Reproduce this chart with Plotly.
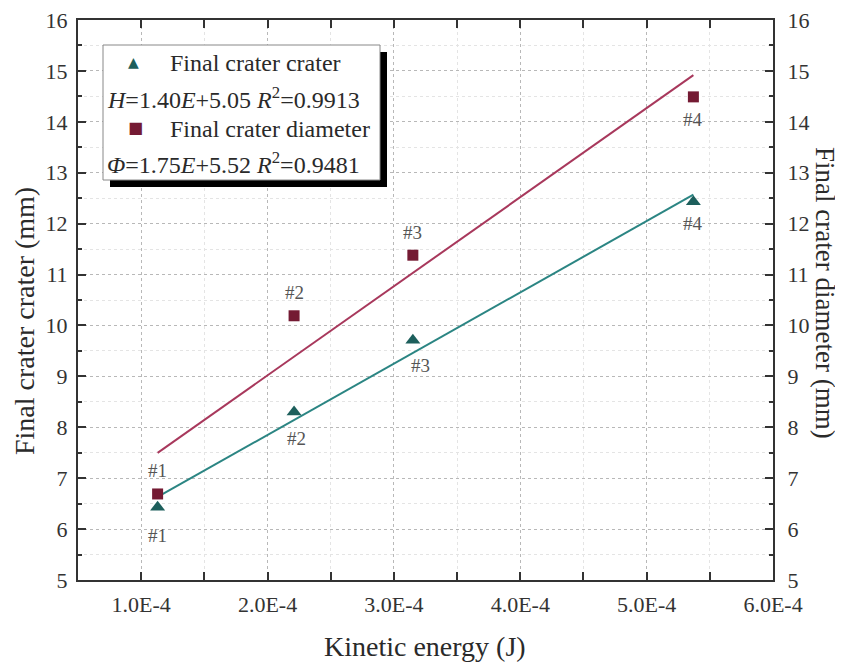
import plotly.graph_objects as go

# ---------------- data ----------------
energy = [1.13e-4, 2.21e-4, 3.15e-4, 5.37e-4]          # Kinetic energy (J)
crater_depth = [6.43, 8.30, 9.71, 12.43]                # Final crater crater (mm)
crater_diam = [6.69, 10.19, 11.38, 14.49]               # Final crater diameter (mm)
point_labels = ["#1", "#2", "#3", "#4"]

# linear fits given in the legend (E in units of 1E-4 J)
depth_fit = (1.40, 5.05)
diam_fit = (1.75, 5.52)
depth_r2 = "0.9913"
diam_r2 = "0.9481"

x_ticks = [1e-4, 2e-4, 3e-4, 4e-4, 5e-4, 6e-4]
x_tick_text = ["1.0E-4", "2.0E-4", "3.0E-4", "4.0E-4", "5.0E-4", "6.0E-4"]
y_ticks = list(range(5, 17))

TEAL_M = "#1d5f5c"
TEAL_L = "#2b8583"
RED_M = "#741a33"
RED_L = "#a8385c"
FONT = "Liberation Serif"
TXT = "#2a2a2a"

# ---------------- layout geometry ----------------
OFF = 8                      # page body margin
W, H = 843 - OFF, 664 - OFF
L, R, T, B = 78 - OFF, 70, 20 - OFF, 84
PW, PH = W - L - R, H - T - B


def px(x):  # screenshot pixel -> paper x
    return (x - OFF - L) / PW


def py(y):  # screenshot pixel -> paper y
    return (H - B - (y - OFF)) / PH


fig = go.Figure()

# fit lines
ends = [energy[0], energy[-1]]
fig.add_trace(go.Scatter(x=ends, y=[depth_fit[0] * e * 1e4 + depth_fit[1] for e in ends],
                         mode="lines", line=dict(color=TEAL_L, width=2), showlegend=False))
fig.add_trace(go.Scatter(x=ends, y=[diam_fit[0] * e * 1e4 + diam_fit[1] for e in ends],
                         mode="lines", line=dict(color=RED_L, width=2), showlegend=False))

# markers
fig.add_trace(go.Scatter(x=energy, y=crater_diam, mode="markers",
                         marker=dict(symbol="square", size=11, color=RED_M), showlegend=False))
fig.add_trace(go.Scatter(x=energy, y=crater_depth, mode="markers",
                         marker=dict(symbol="triangle-up", size=13, color=TEAL_M), showlegend=False))

# point labels
annotations = []
lab_font = dict(family=FONT, size=19, color="#555555")
diam_shift = [23, 23, 23, -23]
depth_shift = [-28, -26, -25, -22]
depth_xshift = [0, 2, 8, 0]
for i, lab in enumerate(point_labels):
    annotations.append(dict(x=energy[i], y=crater_diam[i], xref="x", yref="y", text=lab,
                            showarrow=False, yshift=diam_shift[i], font=lab_font))
    annotations.append(dict(x=energy[i], y=crater_depth[i], xref="x", yref="y", text=lab,
                            showarrow=False, yshift=depth_shift[i], xshift=depth_xshift[i],
                            font=lab_font))

# custom legend box with shadow
shapes = [
    dict(type="rect", xref="paper", yref="paper", x0=px(110), x1=px(387), y0=py(187), y1=py(52),
         fillcolor="black", line=dict(width=0), layer="above"),
    dict(type="rect", xref="paper", yref="paper", x0=px(103), x1=px(380), y0=py(180), y1=py(45),
         fillcolor="white", line=dict(color="#888888", width=1), layer="above"),
]
leg_font = dict(family=FONT, size=24, color=TXT)


def ann(x, y, text, font, xanchor="center", angle=0):
    return dict(xref="paper", yref="paper", x=px(x), y=py(y), text=text, showarrow=False,
                xanchor=xanchor, yanchor="middle", textangle=angle, font=font)


annotations += [
    ann(133, 62, "▲", dict(family="DejaVu Sans", size=14, color=TEAL_M)),
    ann(168, 63, "Final crater crater", leg_font, "left"),
    ann(105, 98, f"<i>H</i>={depth_fit[0]:.2f}<i>E</i>+{depth_fit[1]:.2f} <i>R</i><sup>2</sup>={depth_r2}",
        leg_font, "left"),
    ann(135, 128, "■", dict(family="DejaVu Sans", size=16, color=RED_M)),
    ann(168, 129, "Final crater diameter", leg_font, "left"),
    ann(105, 163, f"<i>Φ</i>={diam_fit[0]:.2f}<i>E</i>+{diam_fit[1]:.2f} <i>R</i><sup>2</sup>={diam_r2}",
        leg_font, "left"),
    # axis titles
    ann(24, 321, "Final crater crater (mm)", dict(family=FONT, size=28, color=TXT), angle=-90),
    ann(825, 293, "Final crater diameter (mm)", dict(family=FONT, size=27, color=TXT), angle=90),
    ann(425, 646, "Kinetic energy (J)", dict(family=FONT, size=28, color=TXT)),
]

axis_common = dict(showline=True, linecolor="#333333", linewidth=2, ticks="inside", ticklen=8,
                   tickwidth=2, tickcolor="#333333", zeroline=False, ticklabeloverflow="allow",
                   tickfont=dict(family=FONT, size=22, color="#333333"), automargin=False)

fig.update_layout(
    width=W, height=H, margin=dict(l=L, r=R, t=T, b=B, autoexpand=False),
    paper_bgcolor="white", plot_bgcolor="white",
    font=dict(family=FONT, color=TXT),
    showlegend=False,
    xaxis=dict(range=[0.5e-4, 6.0e-4], tickvals=x_ticks, ticktext=x_tick_text, mirror="allticks",
               showgrid=True, gridcolor="#b8b8b8", griddash="dot", gridwidth=1,
               minor=dict(dtick=0.5e-4, tick0=0, ticks="inside", ticklen=4, tickcolor="#333333",
                          showgrid=True, gridcolor="#e4e4e4", gridwidth=1),
               ticklabelstandoff=4,
               **axis_common),
    yaxis=dict(range=[5, 16], tickvals=y_ticks, mirror="allticks",
               showgrid=True, gridcolor="#b8b8b8", griddash="dot", gridwidth=1,
               minor=dict(dtick=0.5, tick0=5, ticks="inside", ticklen=4, tickcolor="#333333",
                          showgrid=True, gridcolor="#e4e4e4", gridwidth=1),
               ticklabelstandoff=4,
               **axis_common),
    yaxis2=dict(range=[5, 16], tickvals=y_ticks, overlaying="y", side="right", showgrid=False,
                ticklabelstandoff=8,
                **axis_common),
    shapes=shapes,
    annotations=annotations,
)

# invisible trace to activate the right axis
fig.add_trace(go.Scatter(x=[energy[0]], y=[crater_depth[0]], yaxis="y2", mode="markers",
                         marker=dict(opacity=0), showlegend=False, hoverinfo="skip"))

fig.write_html("out.html")
